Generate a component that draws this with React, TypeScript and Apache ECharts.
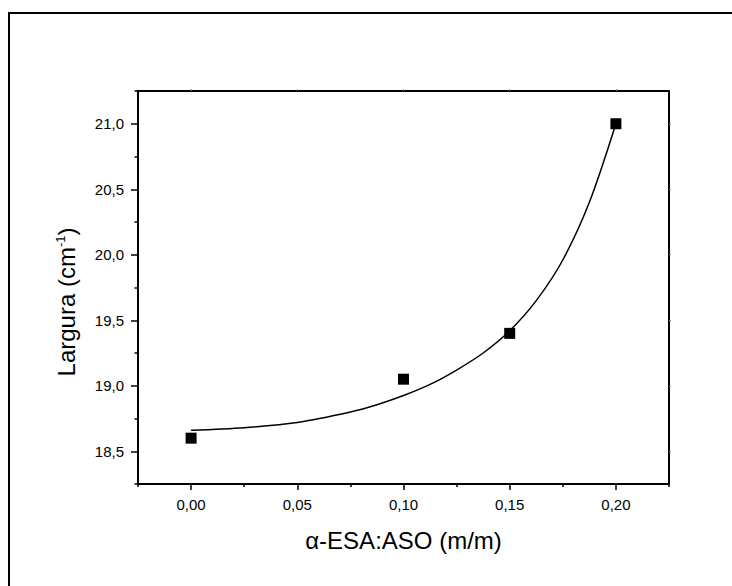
import { useEffect, useRef } from "react";
import * as echarts from "echarts";

// Measured points: α-ESA:ASO mass ratio vs. band width (cm⁻¹)
const ratio = [0, 0.1, 0.15, 0.2];
const bandWidth = [18.6, 19.05, 19.4, 21.0];

// Fitted exponential growth curve, read along its length
const fitRatio = [
  0, 0.025, 0.05, 0.075, 0.0875, 0.1, 0.1125, 0.125, 0.1375, 0.15, 0.1625, 0.175, 0.1875, 0.2,
];
const fitWidth = [
  18.66, 18.68, 18.72, 18.8, 18.855, 18.925, 19.01, 19.12, 19.25, 19.42, 19.65, 19.96, 20.4, 21.0,
];

// Tick positions
const xMajor = [0, 0.05, 0.1, 0.15, 0.2];
const xMinor = [-0.025, 0.025, 0.075, 0.125, 0.175, 0.225];
const yMajor = [18.5, 19.0, 19.5, 20.0, 20.5, 21.0];
const yMinor = [18.25, 18.75, 19.25, 19.75, 20.25, 20.75, 21.25];

const X_MIN = -0.025;
const X_MAX = 0.225;
const Y_MIN = 18.25;
const Y_MAX = 21.25;

const FONT = "'Liberation Sans', Arial, Helvetica, sans-serif";
const comma = (v: number, d: number) => v.toFixed(d).replace(".", ",");

export default function App() {
  const ref = useRef<HTMLDivElement>(null);

  useEffect(() => {
    if (!ref.current) return;
    const chart = echarts.init(ref.current, null, { renderer: "svg" });

    const lineStyle = { color: "#000", width: 2 };

    chart.setOption({
      animation: false,
      backgroundColor: "#fff",
      textStyle: { fontFamily: FONT },
      grid: { left: 138, top: 91, width: 531, height: 393, containLabel: false },
      graphic: [
        {
          type: "rect",
          shape: { x: 9, y: 13, width: 760, height: 620 },
          style: { fill: "none", stroke: "#000", lineWidth: 2 },
          silent: true,
        },
        {
          type: "text",
          x: 66,
          y: 302,
          rotation: Math.PI / 2,
          silent: true,
          style: {
            text: "{t|Largura (cm}{s|-1}{t|)}",
            align: "center",
            verticalAlign: "middle",
            fill: "#000",
            fontFamily: FONT,
            rich: {
              t: { fontSize: 24, fill: "#000", fontFamily: FONT, verticalAlign: "bottom" },
              s: {
                fontSize: 13,
                fill: "#000",
                fontFamily: FONT,
                verticalAlign: "bottom",
                padding: [0, 0, 12, 0],
              },
            },
          },
        },
      ],
      xAxis: [
        {
          type: "value",
          position: "bottom",
          min: X_MIN,
          max: X_MAX,
          axisLine: { show: true, onZero: false, lineStyle },
          axisTick: {
            show: true,
            inside: false,
            length: 6,
            customValues: xMajor,
            lineStyle: { color: "#000", width: 1.5 },
          },
          axisLabel: {
            show: true,
            customValues: xMajor,
            margin: 13,
            fontSize: 15,
            color: "#000",
            fontFamily: FONT,
            formatter: (v: number) => comma(v, 2),
          },
          splitLine: { show: false },
          name: "α-ESA:ASO (m/m)",
          nameLocation: "middle",
          nameGap: 44,
          nameTextStyle: { fontSize: 24, color: "#000", fontFamily: FONT },
        },
        {
          type: "value",
          position: "bottom",
          min: X_MIN,
          max: X_MAX,
          axisLine: { show: false, onZero: false },
          axisTick: {
            show: true,
            length: 3,
            customValues: xMinor,
            lineStyle: { color: "#000", width: 1.5 },
          },
          axisLabel: { show: false },
          splitLine: { show: false },
        },
        {
          type: "value",
          position: "top",
          min: X_MIN,
          max: X_MAX,
          axisLine: { show: true, onZero: false, lineStyle },
          axisTick: {
            show: true,
            length: 2,
            customValues: xMajor,
            lineStyle: { color: "#888", width: 1 },
          },
          axisLabel: { show: false },
          splitLine: { show: false },
        },
      ],
      yAxis: [
        {
          type: "value",
          position: "left",
          min: Y_MIN,
          max: Y_MAX,
          axisLine: { show: true, onZero: false, lineStyle },
          axisTick: {
            show: true,
            length: 7,
            customValues: yMajor,
            lineStyle: { color: "#000", width: 1.5 },
          },
          axisLabel: {
            show: true,
            customValues: yMajor,
            margin: 14,
            fontSize: 15,
            color: "#000",
            fontFamily: FONT,
            formatter: (v: number) => comma(v, 1),
          },
          splitLine: { show: false },
        },
        {
          type: "value",
          position: "left",
          min: Y_MIN,
          max: Y_MAX,
          axisLine: { show: false, onZero: false },
          axisTick: {
            show: true,
            length: 3.5,
            customValues: yMinor,
            lineStyle: { color: "#000", width: 1.5 },
          },
          axisLabel: { show: false },
          splitLine: { show: false },
        },
        {
          type: "value",
          position: "right",
          min: Y_MIN,
          max: Y_MAX,
          axisLine: { show: true, onZero: false, lineStyle },
          axisTick: {
            show: true,
            length: 2,
            customValues: yMajor,
            lineStyle: { color: "#888", width: 1 },
          },
          axisLabel: { show: false },
          splitLine: { show: false },
        },
      ],
      series: [
        {
          type: "line",
          name: "fit",
          xAxisIndex: 0,
          yAxisIndex: 0,
          data: fitRatio.map((x, i) => [x, fitWidth[i]]),
          smooth: 0.3,
          showSymbol: false,
          symbol: "none",
          lineStyle: { color: "#000", width: 1.5 },
          z: 2,
        },
        {
          type: "scatter",
          name: "data",
          xAxisIndex: 0,
          yAxisIndex: 0,
          data: ratio.map((x, i) => [x, bandWidth[i]]),
          symbol: "rect",
          symbolSize: 11,
          itemStyle: { color: "#000", opacity: 1 },
          z: 3,
        },
      ],
    });

    return () => chart.dispose();
  }, []);

  return (
    <div
      ref={ref}
      style={{ position: "fixed", left: 0, top: 0, width: 732, height: 586, background: "#fff" }}
    />
  );
}
